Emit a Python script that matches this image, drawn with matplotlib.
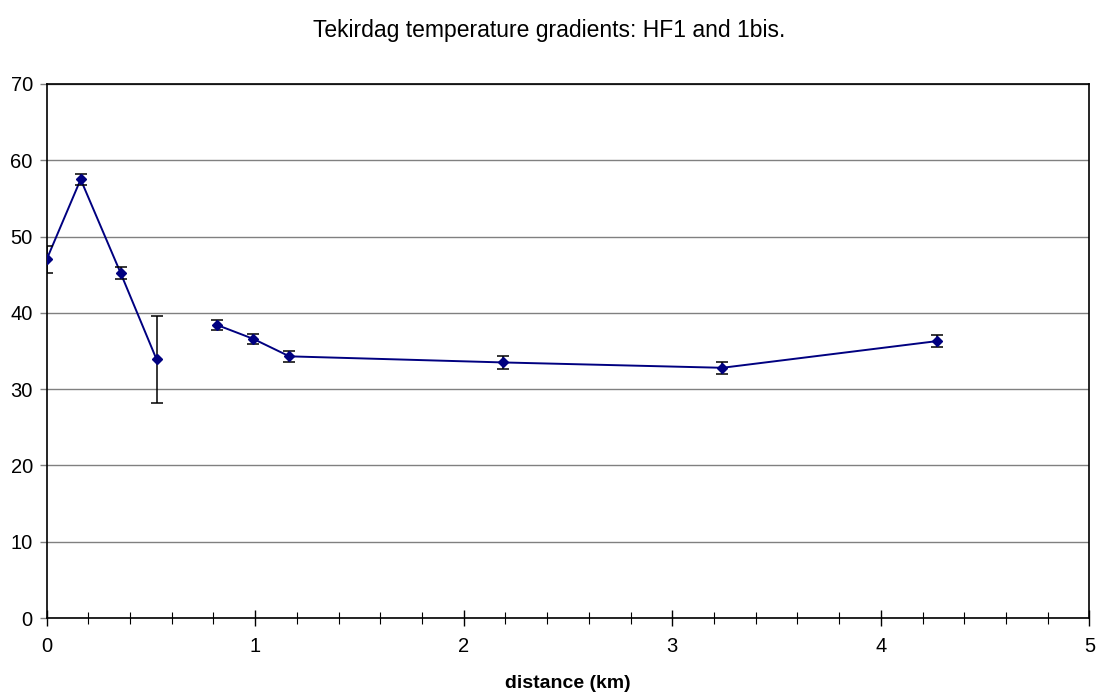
import numpy as np
import matplotlib
matplotlib.use("Agg")
import matplotlib.pyplot as plt
from matplotlib.ticker import MultipleLocator

plt.rcParams['font.family'] = ['Liberation Sans', 'DejaVu Sans']

# data (NaN marks the gap in the series)
distance_km = [0.0, 0.163, 0.355, 0.527, np.nan, 0.818, 0.99, 1.164, 2.19, 3.24, 4.27]
gradient = [47.0, 57.5, 45.2, 33.9, np.nan, 38.4, 36.6, 34.3, 33.5, 32.8, 36.3]
error = [1.8, 0.7, 0.8, 5.7, np.nan, 0.7, 0.65, 0.7, 0.9, 0.8, 0.8]

title = "Tekirdag temperature gradients: HF1 and 1bis."
xlabel = "distance (km)"

fig = plt.figure(figsize=(10.98, 6.93), dpi=100)
ax = fig.add_axes([0.0425, 0.1082, 0.9496, 0.7706])

x = np.array(distance_km, dtype=float)
y = np.array(gradient, dtype=float)
e = np.array(error, dtype=float)

ax.plot(x, y, color='#000080', lw=1.4, zorder=3)
m = ~np.isnan(y)
ax.errorbar(x[m], y[m], yerr=e[m], fmt='none', ecolor='black', elinewidth=1.1,
            capsize=4.5, capthick=1.1, zorder=4)
ax.plot(x[m], y[m], ls='none', marker='D', ms=5.5, color='#000080', zorder=5)

ax.set_xlim(0, 5)
ax.set_ylim(0, 70)
ax.xaxis.set_major_locator(MultipleLocator(1))
ax.xaxis.set_minor_locator(MultipleLocator(0.2))
ax.yaxis.set_major_locator(MultipleLocator(10))

ax.grid(axis='y', which='major', color='#808080', lw=1.0)
ax.set_axisbelow(True)

for s in ax.spines.values():
    s.set_color('black')
    s.set_linewidth(1.2)

ax.tick_params(axis='x', which='major', direction='inout', length=12, width=1, labelsize=14.5, pad=8)
ax.tick_params(axis='x', which='minor', direction='inout', length=9, width=0.8)
ax.tick_params(axis='y', which='major', direction='out', length=5, width=1, color='#808080',
               labelsize=14.5, pad=5)

ax.set_xlabel(xlabel, fontsize=14, fontweight='bold', labelpad=13)
fig.text(0.5, 1 - 31/693, title, ha='center', va='center', fontsize=16.5)

fig.savefig('out.png', dpi=100, facecolor='white')
